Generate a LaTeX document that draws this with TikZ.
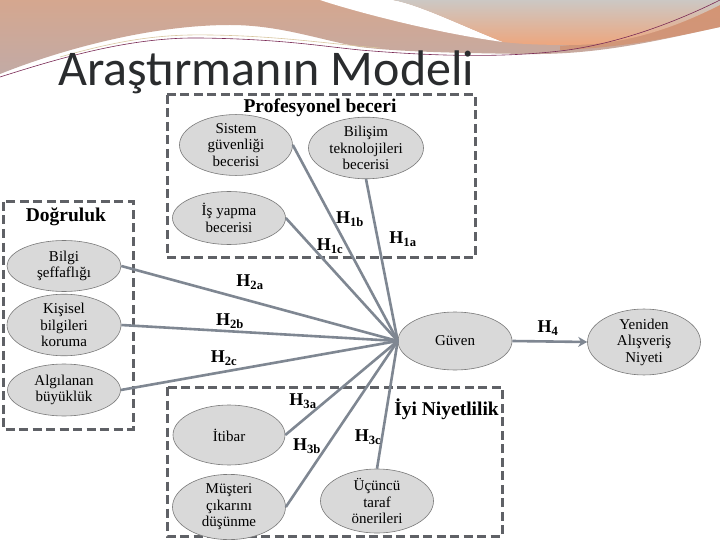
\documentclass[tikz,border=0pt]{standalone}
\usepackage{fontspec}
\setmainfont{Liberation Serif}
\newfontfamily\titlefont{Carlito}
\usetikzlibrary{shapes.geometric,arrows.meta}
\definecolor{ellfill}{HTML}{D9D9D9}
\definecolor{ellline}{HTML}{7A7A7A}
\definecolor{boxc}{HTML}{5F6166}
\definecolor{linec}{HTML}{7F8792}
\definecolor{titlec}{HTML}{2A2C2E}
\definecolor{tanA}{HTML}{D5A78F}
\definecolor{tanB}{HTML}{C2AAA5}
\definecolor{grayA}{HTML}{CCC8C4}
\definecolor{orangeA}{HTML}{EDA67E}
\definecolor{bandc}{HTML}{D48E6A}
\definecolor{purplec}{HTML}{7A2A55}
\definecolor{goldc}{HTML}{D9C7A0}
\tikzset{
  ell/.style={ellipse, draw=ellline, fill=ellfill, line width=0.6pt,
    minimum width=113pt, minimum height=55pt, inner sep=0pt, align=center,
    font=\fontsize{15}{16.5}\selectfont},
  grp/.style={draw=boxc, line width=3pt, dash pattern=on 9pt off 4.5pt},
  conn/.style={draw=linec, line width=2.6pt},
  hlab/.style={font=\bfseries\fontsize{18}{18}\selectfont, inner sep=0pt},
  gtitle/.style={font=\bfseries\fontsize{19.5}{20}\selectfont, inner sep=0pt},
}
\begin{document}
\begin{tikzpicture}[x=1pt,y=-1pt]
\useasboundingbox (0,0) rectangle (720,540);
\fill[white] (0,0) rectangle (720,540);
% decorative header band
\shade[top color=tanA, bottom color=tanB]
  (0,0) -- (720,0) -- (720,27)
  .. controls (660,40) and (600,55) .. (527,54)
  .. controls (460,53) and (400,52) .. (360,47)
  .. controls (320,40) and (280,25) .. (230,25)
  .. controls (150,25) and (60,50) .. (0,74) -- cycle;
\fill[bandc, opacity=0.7]
  (560,46) .. controls (620,42) and (680,20) .. (720,3) -- (720,27)
  .. controls (670,38) and (620,48) .. (560,50) -- cycle;
\fill[white] (320,0) .. controls (350,10) and (430,32) .. (503,42)
  .. controls (460,25) and (420,5) .. (393,0) -- cycle;
\shade[top color=grayA, bottom color=orangeA]
  (393,0) -- (720,0) -- (720,5)
  .. controls (680,25) and (630,45) .. (570,45)
  .. controls (540,45) and (520,44) .. (503,42)
  .. controls (460,25) and (420,5) .. (393,0) -- cycle;
\draw[goldc, line width=0.6pt] (60,57) .. controls (120,40) and (160,34) .. (210,35)
  .. controls (280,36) and (330,44) .. (380,48);
\draw[purplec, line width=0.6pt] (0,77) .. controls (60,58) and (130,37) .. (200,38)
  .. controls (280,39) and (320,46) .. (360,50)
  .. controls (430,56) and (500,58) .. (560,51)
  .. controls (620,44) and (680,20) .. (720,0);
% title
\node[anchor=base west, inner sep=0pt, text=titlec,
  font=\titlefont\fontsize{50}{50}\selectfont] (title) at (58,86) {Araştırmanın Modeli};
% group boxes
\draw[grp] (167,95) rectangle (475,257);
\draw[grp] (3,202) rectangle (133,429);
\draw[grp] (167,387) rectangle (502,536);
\node[gtitle, anchor=base] (tprof) at (320,113) {Profesyonel beceri};
\node[gtitle] (tdog) at (66,217) {Doğruluk};
\node[gtitle, anchor=east] (tiyi) at (499,409) {İyi Niyetlilik};
% ellipses
\node[ell, minimum height=54pt] (sis) at (236,145) {Sistem\\güvenliği\\becerisi};
\node[ell, minimum width=115pt, minimum height=58pt] (bil) at (366,148) {Bilişim\\teknolojileri\\becerisi};
\node[ell, minimum height=53pt] (is) at (229,218) {İş yapma\\becerisi};
\node[ell, minimum width=114pt, minimum height=51pt] (seff) at (64,266) {Bilgi\\şeffaflığı};
\node[ell, minimum width=114pt, minimum height=57pt] (kis) at (64,325) {Kişisel\\bilgileri\\koruma};
\node[ell, minimum width=113pt, minimum height=52pt] (alg) at (64,390) {Algılanan\\büyüklük};
\node[ell, minimum width=114pt, minimum height=58pt] (guv) at (455,341) {Güven};
\node[ell, minimum height=59pt] (yen) at (644,342) {Yeniden\\Alışveriş\\Niyeti};
\node[ell, minimum width=112pt, minimum height=60pt] (iti) at (229,435) {İtibar};
\node[ell, minimum height=57pt] (mus) at (229,507) {Müşteri\\çıkarını\\düşünme};
\node[ell, minimum height=53pt] (ucu) at (377,501) {Üçüncü\\taraf\\önerileri};
% connectors
\draw[conn] (sis.east) -- (guv.west);
\draw[conn] (bil.south) -- (guv.west);
\draw[conn] (is.east) -- (guv.west);
\draw[conn] (seff.east) -- (guv.west);
\draw[conn] (kis.east) -- (guv.west);
\draw[conn] (alg.east) -- (guv.west);
\draw[conn] (iti.east) -- (guv.west);
\draw[conn] (mus.east) -- (guv.west);
\draw[conn] (ucu.north) -- (guv.west);
\draw[conn, -{Stealth[length=9pt,width=10pt]}] (guv.east) -- (yen.west);
% labels
\node[hlab] (h1b) at (350,219) {H\textsubscript{1b}};
\node[hlab] (h1a) at (403,239) {H\textsubscript{1a}};
\node[hlab] (h1c) at (330,246) {H\textsubscript{1c}};
\node[hlab] (h2a) at (250,282) {H\textsubscript{2a}};
\node[hlab] (h2b) at (230,321) {H\textsubscript{2b}};
\node[hlab] (h2c) at (224,358) {H\textsubscript{2c}};
\node[hlab] (h3a) at (303,401) {H\textsubscript{3a}};
\node[hlab] (h3b) at (307,446) {H\textsubscript{3b}};
\node[hlab] (h3c) at (368,437) {H\textsubscript{3c}};
\node[hlab] (h4) at (548,328) {H\textsubscript{4}};
\end{tikzpicture}
\end{document}
